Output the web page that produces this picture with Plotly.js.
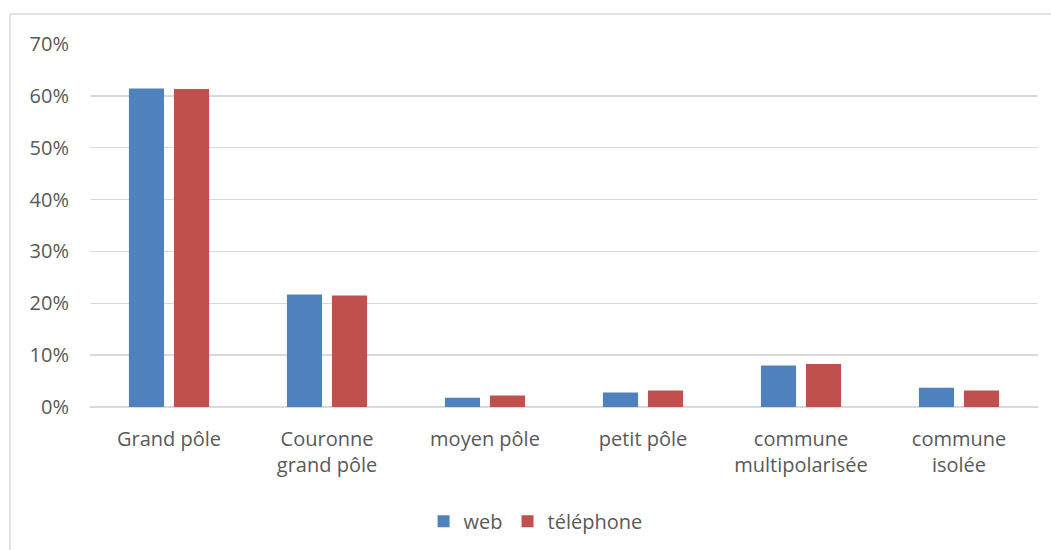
<!DOCTYPE html>
<html>
<head>
<meta charset="utf-8">
<script src="https://cdn.plot.ly/plotly-3.0.1.min.js"></script>
<style>html,body{margin:0;padding:0;background:#fff;}#chart{width:1051px;height:550px;}</style>
</head>
<body>
<div id="chart"></div>
<script>
var categories = ["Grand pôle", "Couronne<br>grand pôle", "moyen pôle", "petit pôle", "commune<br>multipolarisée", "commune<br>isolée"];
var webValues = [0.614, 0.217, 0.018, 0.028, 0.080, 0.037];
var telValues = [0.613, 0.215, 0.022, 0.032, 0.083, 0.032];
var yTickVals = [0, 0.1, 0.2, 0.3, 0.4, 0.5, 0.6, 0.7];
var yTickText = ["0%", "10%", "20%", "30%", "40%", "50%", "60%", "70%"];

var font = "Open Sans, DejaVu Sans, sans-serif";
var traces = [
  {type: "bar", name: "web", x: categories, y: webValues, marker: {color: "#4F81BD"}, hoverinfo: "y"},
  {type: "bar", name: "téléphone", x: categories, y: telValues, marker: {color: "#C0504D"}, hoverinfo: "y"}
];
var layout = {
  width: 1051, height: 550,
  margin: {l: 90, r: 13, t: 44, b: 143, autoexpand: false},
  paper_bgcolor: "#ffffff", plot_bgcolor: "#ffffff",
  barmode: "group", bargap: 0.43, bargroupgap: 0.22,
  font: {family: font, size: 20, color: "#595959"},
  xaxis: {
    automargin: false,
    showgrid: false, zeroline: false, showline: false, ticks: "",
    ticklabelstandoff: 18, tickfont: {family: font, size: 20, color: "#595959"},
    fixedrange: true
  },
  yaxis: {
    automargin: false,
    range: [0, 0.7], tickvals: yTickVals, ticktext: yTickText,
    showgrid: true, gridcolor: "#d9d9d9", gridwidth: 1.5,
    zeroline: true, zerolinecolor: "#d9d9d9", zerolinewidth: 1.5,
    showline: false, ticks: "", ticklabelstandoff: 20,
    tickfont: {family: font, size: 20, color: "#595959"}, fixedrange: true
  },
  legend: {
    orientation: "h", x: 0.47, xanchor: "center", y: -0.315, yanchor: "middle",
    font: {family: font, size: 20, color: "#595959"}, itemwidth: 30
  },
  shapes: [{
    type: "rect", xref: "paper", yref: "paper",
    x0: -0.0844, x1: 1.03, y0: -0.42, y1: 1.0826,
    line: {color: "#d9d9d9", width: 1.5}, fillcolor: "rgba(0,0,0,0)", layer: "below"
  }],
  showlegend: true
};
Plotly.newPlot("chart", traces, layout, {displayModeBar: false, staticPlot: true});
</script>
</body>
</html>
